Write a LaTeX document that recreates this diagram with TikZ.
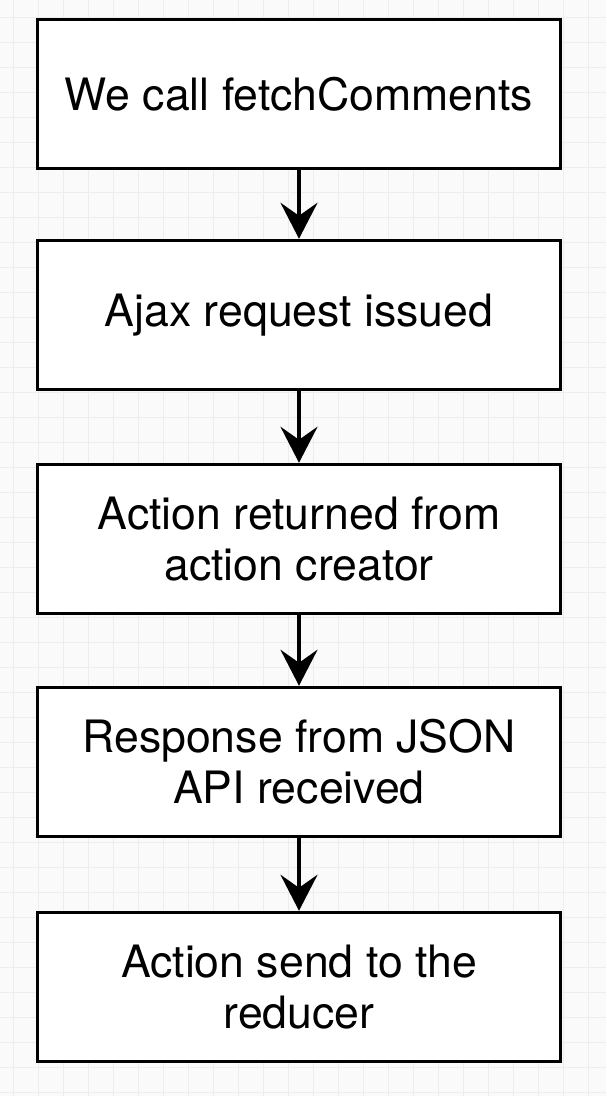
\documentclass[tikz,border=0pt]{standalone}
\usepackage{fontspec}
\setmainfont{TeX Gyre Heros}
\usetikzlibrary{arrows.meta}
\begin{document}
\begin{tikzpicture}[x=1pt,y=-1pt,
  stepbox/.style={draw=black, line width=3.5pt, fill=white, minimum width=523pt, minimum height=149pt, inner sep=0pt, align=center, font=\fontsize{44.6}{51}\selectfont},
  flow/.style={line width=3.5pt, -{Stealth[length=36pt,width=37pt,inset=13pt]}},
  gridline/.style={draw=black!7, line width=0.8pt}]
\useasboundingbox (0,0) rectangle (606,1096);
\fill[white!98!black] (0,0) rectangle (606,1096);
\foreach \gx in {13,38,...,606} \draw[gridline] (\gx,0) -- (\gx,1096);
\foreach \gy in {17,42,...,1096} \draw[gridline] (0,\gy) -- (606,\gy);
\node[stepbox] (a) at (299,94) {We call fetchComments};
\node[stepbox] (b) at (299,315) {Ajax request issued};
\node[stepbox] (c) at (299,539) {Action returned from\\action creator};
\node[stepbox] (d) at (299,762) {Response from JSON\\API received};
\node[stepbox] (e) at (299,987) {Action send to the\\reducer};
\draw[flow] (a) -- (b);
\draw[flow] (b) -- (c);
\draw[flow] (c) -- (d);
\draw[flow] (d) -- (e);
\end{tikzpicture}
\end{document}
